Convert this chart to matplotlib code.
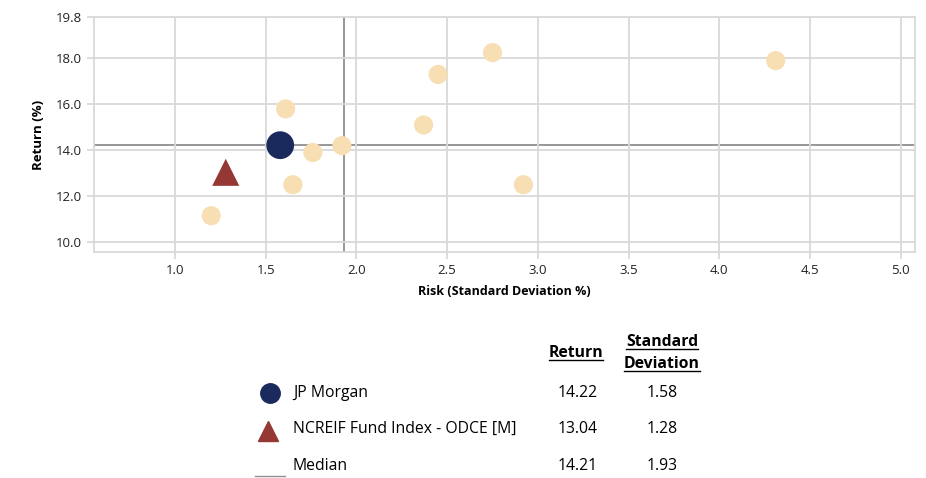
import matplotlib

matplotlib.use("Agg")
import matplotlib.pyplot as plt
from matplotlib.lines import Line2D

# peer universe (risk, return)
peer_risk = [1.20, 1.61, 1.65, 1.76, 1.92, 2.37, 2.45, 2.75, 2.92, 4.31]
peer_return = [11.15, 15.80, 12.50, 13.90, 14.20, 15.10, 17.30, 18.25, 12.50, 17.90]

manager_name = "JP Morgan"
manager_risk, manager_return = 1.58, 14.22
index_name = "NCREIF Fund Index - ODCE [M]"
index_risk, index_return = 1.28, 13.04
median_risk, median_return = 1.93, 14.21

x_ticks = [1.0, 1.5, 2.0, 2.5, 3.0, 3.5, 4.0, 4.5, 5.0]
y_ticks = [10.0, 12.0, 14.0, 16.0, 18.0, 19.8]

PEER = "#F8DEB3"
NAVY = "#1B2A5C"
RED = "#953735"
GRID = "#D9D9D9"
MED = "#8F8F8F"
FONT = ["Open Sans", "DejaVu Sans"]

plt.rcParams["font.family"] = FONT

fig = plt.figure(figsize=(9.26, 4.78), dpi=100)
ax = fig.add_axes([0.1015, 0.4728, 0.8865, 0.4916])

ax.set_xlim(0.554, 5.077)
ax.set_ylim(9.57, 19.8)
ax.set_xticks(x_ticks)
ax.set_xticklabels([f"{v:.1f}" for v in x_ticks])
ax.set_yticks(y_ticks)
ax.set_yticklabels([f"{v:.1f}" for v in y_ticks])
ax.grid(True, color=GRID, linewidth=1.3, zorder=0)
for s in ax.spines.values():
    s.set_color(GRID)
    s.set_linewidth(1.3)
ax.tick_params(colors=GRID, labelcolor="#222222", labelsize=9.5, length=5, width=1.3)

ax.axhline(median_return, color=MED, linewidth=1.3, zorder=1)
ax.axvline(median_risk, color=MED, linewidth=1.3, zorder=1)

ax.scatter(peer_risk, peer_return, s=190, color=PEER, edgecolors="none", zorder=2)
ax.scatter([manager_risk], [manager_return], s=400, color=NAVY, edgecolors="none", zorder=3)
ax.scatter([index_risk], [index_return], s=380, marker="^", color=RED, edgecolors="none", zorder=3)

ax.set_xlabel("Risk (Standard Deviation %)", fontsize=9, fontweight="bold", labelpad=6)
ax.set_ylabel("Return (%)", fontsize=9.5, fontweight="bold", labelpad=8)

# legend table below the chart
W, H = 926, 478
FS = 11.3


def fx(px):
    return px / W


def fy(py):
    return 1 - py / H


hdr = []
hdr.append(fig.text(fx(576), fy(353), "Return", ha="center", va="center", fontsize=FS, fontweight="bold"))
hdr.append(fig.text(fx(662), fy(342), "Standard", ha="center", va="center", fontsize=FS, fontweight="bold"))
hdr.append(fig.text(fx(662), fy(364), "Deviation", ha="center", va="center", fontsize=FS, fontweight="bold"))

rows = [
    (manager_name, manager_return, manager_risk, 393),
    (index_name, index_return, index_risk, 429),
    ("Median", median_return, median_risk, 466),
]
for name, ret, risk, py in rows:
    fig.text(fx(293), fy(py), name, ha="left", va="center", fontsize=FS)
    fig.text(fx(578), fy(py), f"{ret:.2f}", ha="center", va="center", fontsize=FS)
    fig.text(fx(662), fy(py), f"{risk:.2f}", ha="center", va="center", fontsize=FS)

fig.add_artist(Line2D([fx(270)], [fy(393)], marker="o", markersize=14, color=NAVY, linestyle="none"))
fig.add_artist(Line2D([fx(268)], [fy(431)], marker="^", markersize=15, color=RED, linestyle="none"))
fig.add_artist(Line2D([fx(255), fx(285)], [fy(476), fy(476)], color=MED, linewidth=1.0))

# underline headers
fig.canvas.draw()
renderer = fig.canvas.get_renderer()
inv = fig.transFigure.inverted()
for t in [hdr[0], hdr[1], hdr[2]]:
    if t is hdr[1]:
        continue
    bb = t.get_window_extent(renderer).transformed(inv)
    y = bb.y0 + 0.002
    fig.add_artist(Line2D([bb.x0, bb.x1], [y, y], color="black", linewidth=1.0))
# "Standard" is underlined too
bb = hdr[1].get_window_extent(renderer).transformed(inv)
fig.add_artist(Line2D([bb.x0, bb.x1], [bb.y0 + 0.002] * 2, color="black", linewidth=1.0))

fig.savefig("out.png", dpi=100)
